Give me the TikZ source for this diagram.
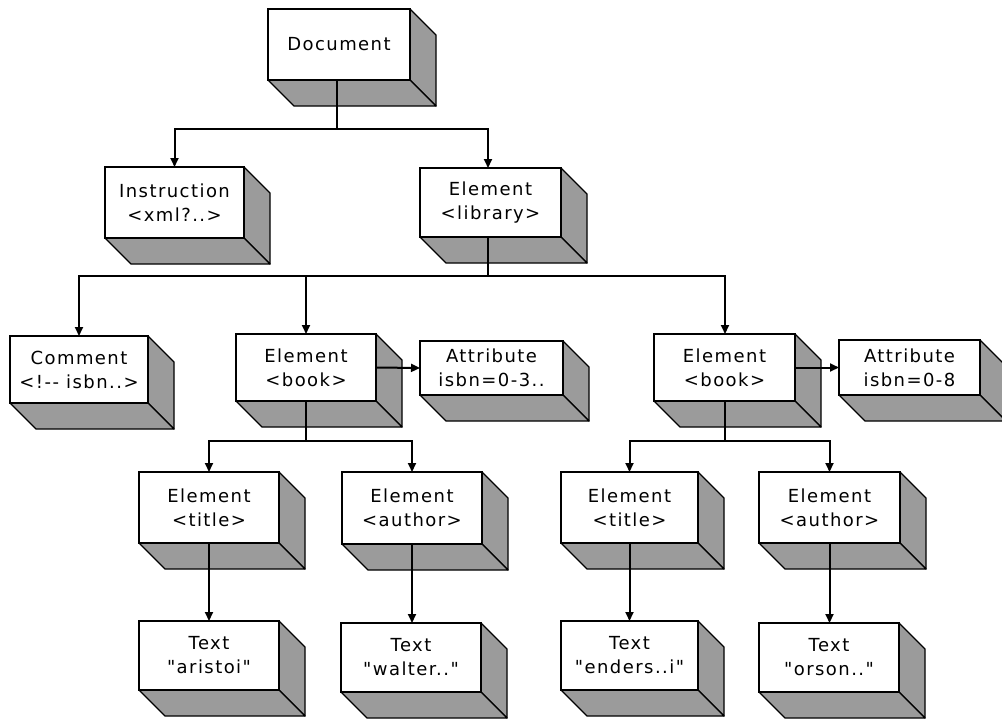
\documentclass[tikz,border=0pt]{standalone}
\usepackage{fontspec}
\newfontfamily\boxfont{DejaVu Sans}[LetterSpace=8]
\usetikzlibrary{arrows.meta}
\definecolor{sidegray}{RGB}{155,155,155}
\tikzset{
  cube/.style={draw, line width=2pt, fill=white, inner sep=0pt, outer sep=0pt,
    align=center, font=\boxfont\fontsize{18}{24}\selectfont},
  conn/.style={line width=2pt},
  arr/.style={conn, -{Triangle[length=9pt,width=8pt]}},
  face3d/.style={fill=sidegray, draw=black, line width=1.3pt, line join=round},
}
% name, x1, y1, x2, y2, text
\newcommand\xcube[6]{%
  \node[cube, minimum width={#4-#2}, minimum height={#5-#3}]
    (#1) at ({(#2+#4)/2},{(#3+#5)/2}) {#6};
  \draw[face3d] (#1.north east) -- ++(26,26) -- ++(0,{#5-#3}) -- (#1.south east) -- cycle;
  \draw[face3d] (#1.south west) -- ++(26,26) -- ++({#4-#2},0) -- (#1.south east) -- cycle;
  \draw[line width=2pt] (#1.south west) rectangle (#1.north east);
}
\begin{document}
\begin{tikzpicture}[x=1pt,y=-1pt]
\useasboundingbox (0,0) rectangle (1002,721);

\xcube{doc}{268}{9}{410}{80}{Document}
\xcube{instr}{105}{167}{244}{238}{Instruction\\<xml?..>}
\xcube{lib}{420}{168}{561}{237}{Element\\<library>}
\xcube{comment}{10}{336}{148}{403}{Comment\\<!-{}- isbn..>}
\xcube{bookA}{236}{334}{376}{401}{Element\\<book>}
\xcube{attrA}{420}{341}{563}{395}{Attribute\\isbn=0-3..}
\xcube{bookB}{654}{334}{795}{401}{Element\\<book>}
\xcube{attrB}{839}{340}{980}{395}{Attribute\\isbn=0-8}
\xcube{titleA}{139}{472}{279}{543}{Element\\<title>}
\xcube{authorA}{342}{472}{482}{544}{Element\\<author>}
\xcube{titleB}{561}{472}{698}{543}{Element\\<title>}
\xcube{authorB}{759}{472}{900}{543}{Element\\<author>}
\xcube{textA}{139}{621}{279}{690}{Text\\"aristoi"}
\xcube{textB}{341}{623}{481}{692}{Text\\"walter.."}
\xcube{textC}{561}{621}{698}{690}{Text\\"enders..i"}
\xcube{textD}{759}{623}{899}{692}{Text\\"orson.."}

\coordinate (j1) at (337,129);
\coordinate (j2) at (488,276);
\coordinate (j3) at (306,441);
\coordinate (j4) at (725,441);

\draw[conn] (doc.south -| j1) -- (j1);
\draw[arr] (j1) -| (instr.north);
\draw[arr] (j1) -| (lib.north -| j2);

\draw[conn] (lib.south -| j2) -- (j2);
\draw[arr] (j2) -| (comment.north);
\draw[arr] (j2) -| (bookA.north -| j3);
\draw[arr] (j2) -| (bookB.north -| j4);

\draw[arr] (bookA.east) -- (attrA.west);
\draw[arr] (bookB.east) -- (attrB.west);

\draw[conn] (bookA.south -| j3) -- (j3);
\draw[arr] (j3) -| (titleA.north);
\draw[arr] (j3) -| (authorA.north);
\draw[conn] (bookB.south -| j4) -- (j4);
\draw[arr] (j4) -| (titleB.north);
\draw[arr] (j4) -| (authorB.north);

\draw[arr] (titleA.south) -- (textA.north);
\draw[arr] (authorA.south) -- (textB.north -| authorA.south);
\draw[arr] (titleB.south) -- (textC.north -| titleB.south);
\draw[arr] (authorB.south) -- (textD.north -| authorB.south);
\end{tikzpicture}
\end{document}
